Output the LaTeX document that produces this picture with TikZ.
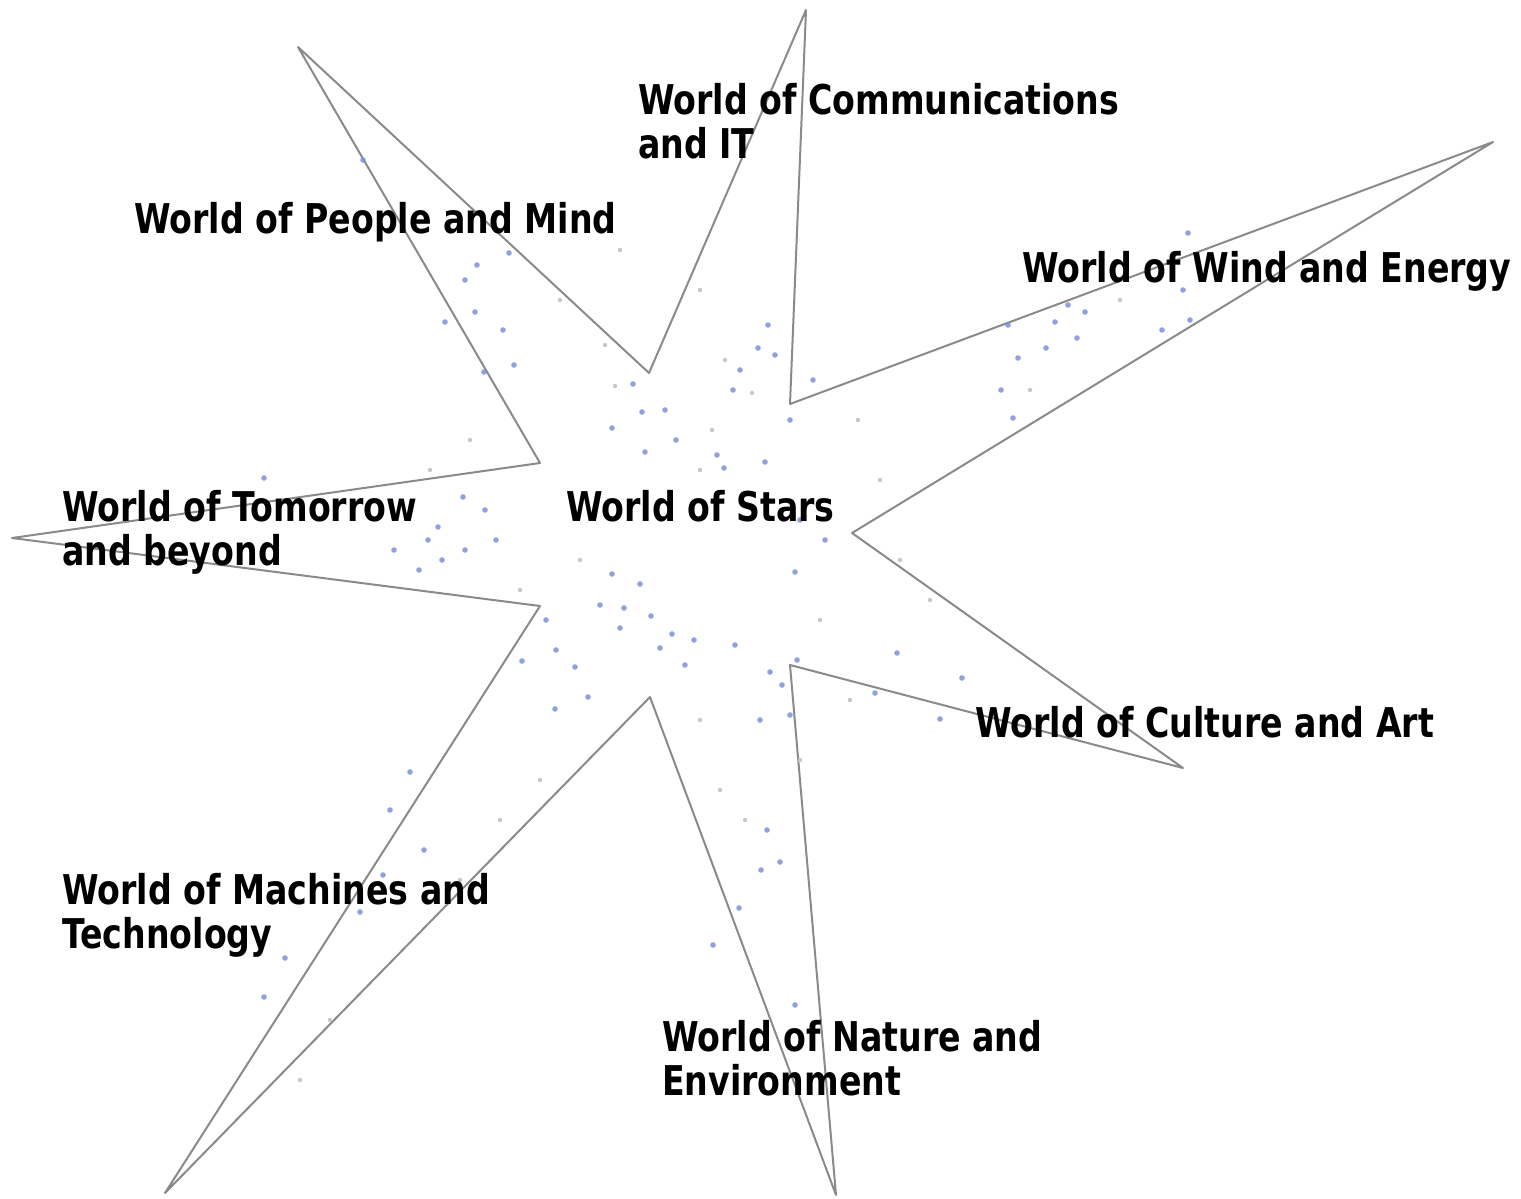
\documentclass[tikz,border=0pt]{standalone}
\usepackage{fontspec}
\setmainfont{DejaVu Sans}[FakeStretch=0.81]
\usepackage{xcolor}
\definecolor{cLine}{HTML}{8A8A8A}
\definecolor{cDot}{HTML}{7D90DA}
\definecolor{cDotGray}{HTML}{C8C8CC}
\usepackage{tikz}
\usetikzlibrary{positioning}
\tikzset{
  star-line/.style={draw=cLine,line width=2pt,line join=round},
  star-dot/.style={fill=cDot,opacity=0.85},
  star-grain/.style={fill=cDotGray},
  world-label/.style={anchor=base west,inner sep=0pt,align=left,
    font=\bfseries\fontsize{41}{44}\selectfont},
}

\begin{document}
\begin{tikzpicture}[x=1pt,y=-1pt]
  \useasboundingbox (0,0) rectangle (1521,1199);
  % star tips and notches
  \coordinate (tip-n)  at (806,10);
  \coordinate (tip-ne) at (1493,142);
  \coordinate (tip-e)  at (1183,768);
  \coordinate (tip-s)  at (836,1195);
  \coordinate (tip-sw) at (165,1193);
  \coordinate (tip-w)  at (12,538);
  \coordinate (tip-nw) at (298,47);
  \draw[star-line] (tip-n) -- (790,404) -- (tip-ne) -- (852,533)
    -- (tip-e) -- (790,665) -- (tip-s) -- (650,697)
    -- (tip-sw) -- (540,606) -- (tip-w) -- (540,463)
    -- (tip-nw) -- (649,373) -- cycle;
  % sprinkle
  \foreach \x/\y in {363/160,477/265,465/280,509/253,445/322,475/312,503/330,
      484/372,514/365,633/384,642/412,665/410,612/428,645/452,676/440,717/455,
      724/468,733/390,740/370,758/348,768/325,775/355,790/420,813/380,800/520,
      825/540,795/572,765/462,1008/325,1046/348,1055/322,1085/312,1068/305,
      1077/338,1162/330,1190/320,1183/290,1188/233,1001/390,1013/418,1018/358,
      264/478,438/527,428/540,465/550,442/560,496/540,485/510,463/497,419/570,
      394/550,612/574,640/584,624/608,651/616,672/634,694/640,685/665,660/648,
      620/628,600/605,546/620,556/650,522/661,575/667,588/697,555/709,797/660,
      770/672,782/685,790/715,897/653,875/693,962/678,940/719,767/830,780/862,
      761/870,739/908,713/945,795/1005,410/772,390/810,424/850,383/875,360/912,
      285/958,264/997,735/645,760/720}
    \fill[star-dot] (\x,\y) circle (2.8);
  \foreach \x/\y in {605/345,615/386,725/360,752/393,700/470,712/430,858/420,
      880/480,900/560,930/600,580/560,520/590,700/720,720/790,745/820,800/760,
      470/440,430/470,540/780,500/820,460/880,330/1020,300/1080,1030/390,
      1120/300,620/250,700/290,560/300,820/620,850/700}
    \fill[star-grain] (\x,\y) circle (2.2);
  % labels
  \node[world-label] (w-comm)     at (638,158)  {World of Communications\\and IT};
  \node[world-label] (w-people)   at (134,233)  {World of People and Mind};
  \node[world-label] (w-wind)     at (1022,282) {World of Wind and Energy};
  \node[world-label] (w-tomorrow) at (62,565)   {World of Tomorrow\\and beyond};
  \node[world-label] (w-stars)    at (566,521)  {World of Stars};
  \node[world-label] (w-culture)  at (975,737)  {World of Culture and Art};
  \node[world-label] (w-machines) at (62,948)   {World of Machines and\\Technology};
  \node[world-label] (w-nature)   at (662,1095) {World of Nature and\\Environment};
\end{tikzpicture}
\end{document}
